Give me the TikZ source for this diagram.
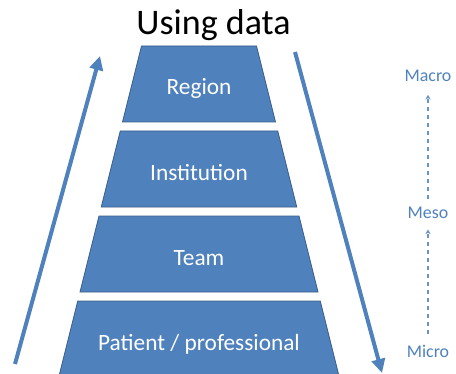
\documentclass[tikz,border=0pt]{standalone}
\usepackage{fontspec}
\setmainfont{Carlito}
\usetikzlibrary{arrows.meta}
\definecolor{boxblue}{HTML}{4F81BD}
\definecolor{boxedge}{HTML}{385D8A}
\tikzset{
  level/.style={fill=boxblue, draw=boxedge, line width=0.6pt},
  levellabel/.style={anchor=base, text=white, font=\fontsize{17.5}{20}\selectfont},
  bigarrow/.style={draw=boxblue, line width=3pt, -{Triangle[width=10pt,length=10.5pt]}},
  scalelabel/.style={anchor=base, text=boxblue, font=\fontsize{13.4}{16}\selectfont},
  scalearrow/.style={draw=boxblue!85, line width=0.8pt, dashed, -{Stealth[width=4pt,length=3.5pt]}}
}
\begin{document}
\begin{tikzpicture}[x=0.75pt,y=-0.75pt]
\useasboundingbox (0,0) rectangle (456,374);
% TITLE
\node[anchor=base, font=\fontsize{27}{32}\selectfont] at (213.5,35) (title) {Using data};
% LEVELS
\draw[level] (141.5,46) -- (256.5,46) -- (275.5,122) -- (122.5,122) -- cycle;
\node[levellabel] at (199,95) (region) {Region};
\draw[level] (120.25,131) -- (277.75,131) -- (296.75,207) -- (101.25,207) -- cycle;
\node[levellabel] at (199,180) (institution) {Institution};
\draw[level] (99,216) -- (299,216) -- (318,292) -- (80,292) -- cycle;
\node[levellabel] at (199,265) (team) {Team};
\draw[level] (77.75,301) -- (320.25,301) -- (339.25,377) -- (58.75,377) -- cycle;
\node[levellabel] at (199,350) (patient) {Patient / professional};
% UP AND DOWN
\coordinate (up_start) at (15,364);
\coordinate (up_end) at (100,56);
\coordinate (down_start) at (295,52);
\coordinate (down_end) at (382,373);
\draw[bigarrow] (up_start) -- (up_end);
\draw[bigarrow] (down_start) -- (down_end);
% SCALE
\node[scalelabel] at (428,82) (macro) {Macro};
\node[scalelabel] at (428,218) (meso) {Meso};
\node[scalelabel] at (428,357) (micro) {Micro};
\draw[scalearrow] (micro.north) ++(0,-6) -- ([yshift=-5pt]meso.south);
\draw[scalearrow] (meso.north) ++(0,-3) -- ([yshift=-6pt]macro.south);
\end{tikzpicture}
\end{document}
